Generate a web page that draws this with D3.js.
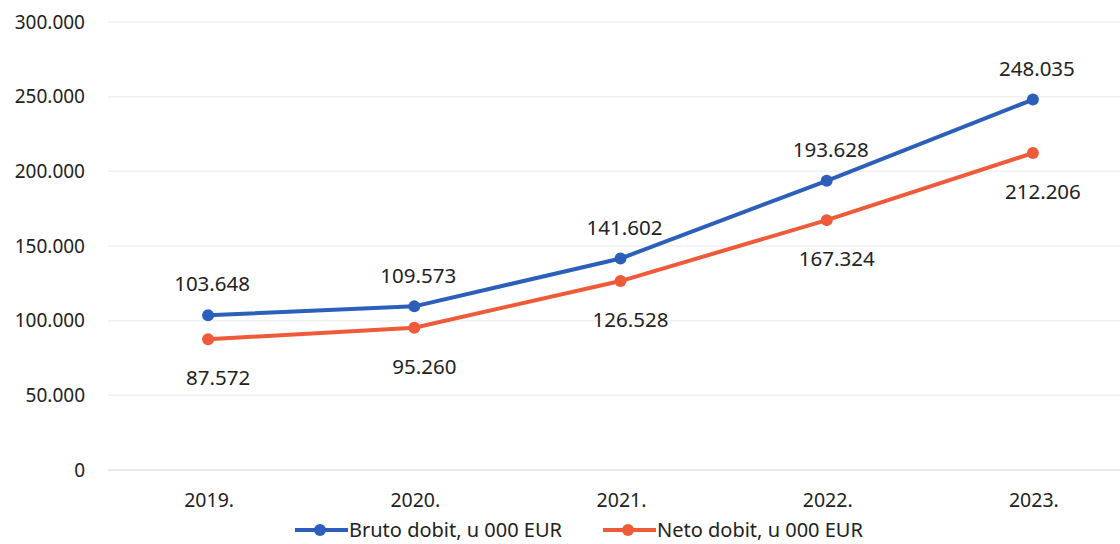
<!DOCTYPE html>
<html>
<head>
  <meta charset="utf-8">
  <title>Bruto i neto dobit</title>
  <script src="https://cdn.jsdelivr.net/npm/d3@7/dist/d3.min.js"></script>
  <style>
    body { margin: 0; background: #fff; }
    text { font-family: "Noto Sans", "Open Sans", sans-serif; fill: #222; }
  </style>
</head>
<body>
  <svg width="1120" height="544"></svg>
  <script>
    // chart data
    const years = ['2019.', '2020.', '2021.', '2022.', '2023.'];
    const bruto = [103648, 109573, 141602, 193628, 248035];
    const neto = [87572, 95260, 126528, 167324, 212206];
    const yTicks = [0, 50000, 100000, 150000, 200000, 250000, 300000];
    const seriesNames = ['Bruto dobit, u 000 EUR', 'Neto dobit, u 000 EUR'];

    const svg = d3.select('svg');
    const fmt = v => v === 0 ? '0' : d3.format(',')(v).replace(/,/g, '.');

    const x = d3.scaleBand().domain(years).range([105, 1136]);
    const y = d3.scaleLinear().domain([0, 300000]).range([470, 22]);
    const cx = d => x(d) + x.bandwidth() / 2;

    // grid
    svg.append('g')
      .selectAll('line')
      .data(yTicks)
      .enter()
      .append('line')
      .attr('x1', 108).attr('x2', 1120)
      .attr('y1', d => y(d)).attr('y2', d => y(d))
      .style('stroke', d => d === 0 ? '#e0e0e0' : '#f0f0f0')
      .style('stroke-width', 1.5);

    // y labels
    svg.append('g')
      .selectAll('text')
      .data(yTicks)
      .enter()
      .append('text')
      .attr('x', 85)
      .attr('y', d => y(d))
      .attr('dy', '0.35em')
      .style('text-anchor', 'end')
      .style('font-size', '19px')
      .text(fmt);

    // x labels
    svg.append('g')
      .selectAll('text')
      .data(years)
      .enter()
      .append('text')
      .attr('x', d => cx(d) + 1)
      .attr('y', 500)
      .attr('dy', '0.35em')
      .style('text-anchor', 'middle')
      .style('font-size', '19.5px')
      .text(d => d);

    const series = [
      { name: seriesNames[0], values: bruto, color: '#2b5fba', labelDy: -31, labelDx: 4 },
      { name: seriesNames[1], values: neto, color: '#ef5a39', labelDy: 39, labelDx: 10 }
    ];

    const line = d3.line()
      .x((d, i) => cx(years[i]))
      .y(d => y(d));

    series.forEach(s => {
      const g = svg.append('g');
      g.append('path')
        .attr('d', line(s.values))
        .style('fill', 'none')
        .style('stroke', s.color)
        .style('stroke-width', 4)
        .style('stroke-linejoin', 'round');

      g.selectAll('circle')
        .data(s.values)
        .enter()
        .append('circle')
        .attr('cx', (d, i) => cx(years[i]))
        .attr('cy', d => y(d))
        .attr('r', 6)
        .style('fill', s.color);

      g.selectAll('text')
        .data(s.values)
        .enter()
        .append('text')
        .attr('x', (d, i) => cx(years[i]) + s.labelDx)
        .attr('y', d => y(d) + s.labelDy)
        .attr('dy', '0.35em')
        .style('text-anchor', 'middle')
        .style('font-size', '20.5px')
        .text(fmt);
    });

    // legend
    const legend = svg.append('g');
    const legendX = [295, 603];
    series.forEach((s, i) => {
      const lg = legend.append('g').attr('transform', `translate(${legendX[i]},530)`);
      lg.append('line')
        .attr('x1', 0).attr('x2', 53)
        .style('stroke', s.color)
        .style('stroke-width', 4);
      lg.append('circle')
        .attr('cx', 25).attr('r', 6)
        .style('fill', s.color);
      lg.append('text')
        .attr('x', 54)
        .attr('dy', '0.35em')
        .style('font-size', '20px')
        .text(s.name);
    });
  </script>
</body>
</html>
